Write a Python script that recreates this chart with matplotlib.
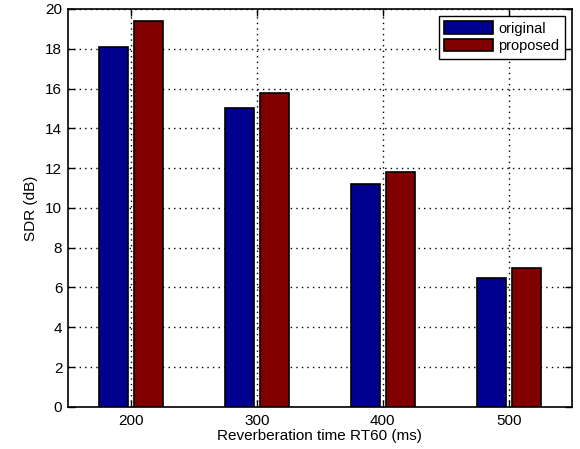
import numpy as np
import matplotlib.pyplot as plt

plt.rcParams['font.family'] = ['Liberation Sans', 'DejaVu Sans']

categories = ['200', '300', '400', '500']
original = [18.1, 15.0, 11.2, 6.5]
proposed = [19.4, 15.8, 11.8, 7.0]

fig = plt.figure(figsize=(5.8, 4.49), dpi=100)
ax = fig.add_axes([0.117, 0.094, 0.869, 0.886])

x = np.arange(1, len(categories) + 1)
w = 0.23
ax.bar(x - 0.14, original, w, color='#00008F', edgecolor='black', linewidth=1.2,
       label='original', zorder=3)
ax.bar(x + 0.14, proposed, w, color='#800000', edgecolor='black', linewidth=1.2,
       label='proposed', zorder=3)

ax.set_xlim(0.5, 4.5)
ax.set_ylim(0, 20)
ax.set_xticks(x)
ax.set_xticklabels(categories)
ax.set_yticks(np.arange(0, 21, 2))
ax.grid(True, linestyle=(0, (1, 3)), color='black', linewidth=1.0, zorder=0)
ax.tick_params(direction='in', top=True, right=True, labelsize=11, length=5, width=1)
ax.tick_params(axis='x', pad=5)
ax.tick_params(axis='y', pad=4)
for s in ax.spines.values():
    s.set_linewidth(1.2)

ax.set_xlabel('Reverberation time RT60 (ms)', fontsize=11, labelpad=1)
ax.set_ylabel('SDR (dB)', fontsize=11, labelpad=5)

leg = ax.legend(loc='upper right', fontsize=10.5, fancybox=False, framealpha=1,
                edgecolor='black', handlelength=3.3, handleheight=0.95,
                borderpad=0.4, labelspacing=0.2, handletextpad=0.4,
                borderaxespad=0.45)
leg.get_frame().set_linewidth(1.0)

fig.savefig('out.png', dpi=100)
